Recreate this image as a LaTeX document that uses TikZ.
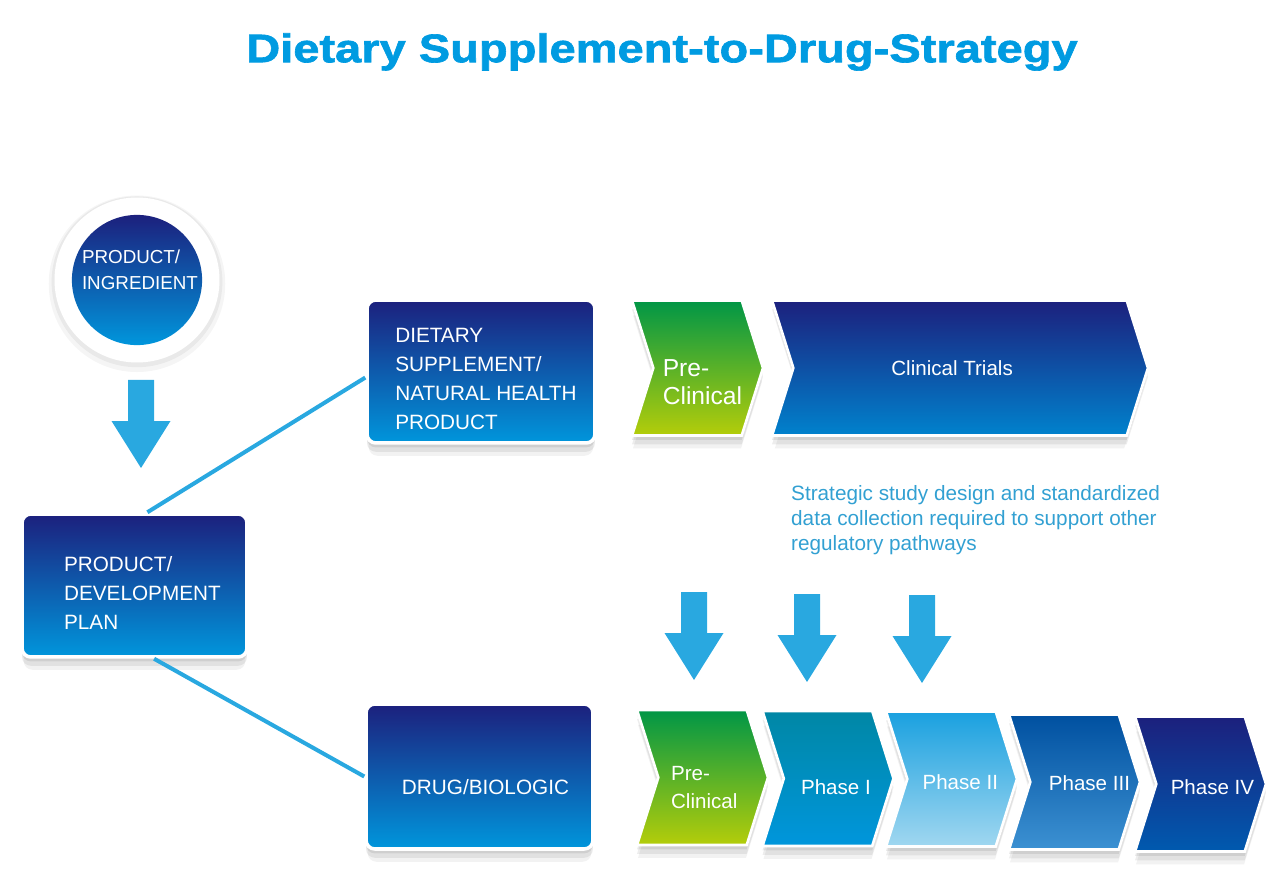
\documentclass[tikz,border=0pt]{standalone}
\usepackage{fontspec}
\setmainfont{Liberation Sans}
\newfontfamily\titlefont{Liberation Sans Bold}[FakeBold=1.6, FakeStretch=1.18]
\usepackage{xcolor}
\usetikzlibrary{shapes.symbols, shadows, positioning}
\definecolor{navyblue}{RGB}{28, 32, 125}
\definecolor{skyblue}{RGB}{0, 150, 220}
\definecolor{trialblue}{RGB}{0, 130, 205}
\definecolor{titleblue}{RGB}{0, 155, 225}
\definecolor{noteblue}{RGB}{50, 160, 210}
\definecolor{linkblue}{RGB}{41, 168, 224}
\definecolor{leafgreen}{RGB}{0, 150, 70}
\definecolor{limegreen}{RGB}{180, 205, 10}
\definecolor{tealblue}{RGB}{0, 135, 165}
\definecolor{paleblue}{RGB}{160, 215, 240}
\definecolor{deepblue}{RGB}{0, 80, 160}
\definecolor{midblue}{RGB}{60, 145, 210}
\definecolor{oceanblue}{RGB}{0, 90, 175}
% extra room above the first line of a label
\newcommand{\headroom}[1]{\rule{0pt}{#1}}

\begin{document}
\begin{tikzpicture}[x=0.02cm, y=-0.02cm,
        softshadow/.style={general shadow={fill=black, opacity=.05, shadow yshift=-8pt, shadow scale=.985},
                           general shadow={fill=black, opacity=.07, shadow yshift=-5pt},
                           general shadow={fill=black, opacity=.08, shadow yshift=-2.5pt}},
        ringshadow/.style={general shadow={fill=black, opacity=.04, shadow scale=1.07, shadow yshift=-2pt},
                           general shadow={fill=black, opacity=.05, shadow scale=1.035, shadow yshift=-1pt}},
        nudge/.style={execute at begin node={\hspace*{#1}}, execute at end node={\hspace*{-#1}}},
        stagebox/.style={rectangle, rounded corners=5pt, draw=white, line width=2pt, softshadow, top color=navyblue, bottom color=skyblue, text=white, align=left, inner sep=0pt, font=\fontsize{11.8}{16.5}\selectfont},
        chevron/.style={signal, signal from=west, signal to=east, signal pointer angle=145, draw=white, line width=1.5pt, softshadow, minimum width=2.62cm, minimum height=2.7cm, inner sep=0pt, text=white, align=left, font=\fontsize{11.7}{16}\selectfont},
        link/.style={draw=linkblue, line width=2.3pt},
        bigarrow/.style={fill=linkblue}
    ]
        \useasboundingbox (0,0) rectangle (1280,881);

        \node[font=\titlefont\fontsize{22.7}{27}\selectfont, text=titleblue] (title) at (662,52) {Dietary Supplement-to-Drug-Strategy};

        % source circle
        \node[circle, fill=white, minimum size=3.3cm, ringshadow] (ring) at (137,280) {};
        \node[circle, minimum size=2.52cm, top color=navyblue, bottom color=skyblue, text=white, align=left, inner sep=0pt, font=\fontsize{10.7}{14.7}\selectfont,
              execute at begin node={\hspace*{1.7pt}}, execute at end node={\hspace*{-1.7pt}\rule[-11.5pt]{0pt}{0pt}}] (ingredient) at (ring) {PRODUCT/\\INGREDIENT};

        % boxes
        \node[stagebox, nudge=4.5pt, minimum width=4.5cm, minimum height=2.86cm] (plan) at (134.5,585.5) {\headroom{16.6pt}PRODUCT/\\DEVELOPMENT\\PLAN};
        \node[stagebox, nudge=2.8pt, minimum width=4.56cm, minimum height=2.86cm] (dietary) at (481,371.5) {\headroom{17pt}DIETARY\\SUPPLEMENT/\\NATURAL HEALTH\\PRODUCT};
        \node[stagebox, nudge=3.4pt, minimum width=4.54cm, minimum height=2.9cm] (drug) at (479.5,776.5) {\headroom{20.5pt}DRUG/BIOLOGIC};

        \draw[link] (plan.80) -- (dietary.183);
        \draw[link] (plan.-75) -- (drug.west);

        % supplement pathway
        \node[chevron, nudge=2.8pt, top color=leafgreen, middle color=leafgreen!50!limegreen, bottom color=limegreen, font=\fontsize{14}{16}\selectfont] (pre1) at (697.5,368) {\headroom{26pt}Pre-\\Clinical};
        \node[chevron, nudge=-4.5pt, minimum width=7.52cm, top color=navyblue, middle color=navyblue!90!trialblue, bottom color=trialblue] (trials) at (960,368) {Clinical Trials};

        \node[text=noteblue, align=left, anchor=west, font=\fontsize{11.8}{14.2}\selectfont] (note) at (785,520) {Strategic study design and standardized\\data collection required to support other\\regulatory pathways};

        % drug pathway
        \node[chevron, nudge=1pt, top color=leafgreen, middle color=leafgreen!50!limegreen, bottom color=limegreen] (pre2) at (702.5,777.5) {\headroom{19.8pt}Pre-\\Clinical};
        \node[chevron, nudge=4.5pt, top color=tealblue, bottom color=skyblue] (phase1) at (828,778.5) {\headroom{18.5pt}Phase I};
        \node[chevron, nudge=5pt, top color=skyblue!90!white, bottom color=paleblue] (phase2) at (951.5,779) {\headroom{12pt}Phase II};
        \node[chevron, nudge=8.5pt, top color=deepblue, bottom color=midblue] (phase3) at (1074.5,782) {\headroom{10pt}Phase III};
        \node[chevron, nudge=6.8pt, top color=navyblue, bottom color=oceanblue] (phase4) at (1200.5,784) {\headroom{12pt}Phase IV};

        % block arrows
        \foreach \ax/\ay in {141/380, 694/592, 807/594, 922/595}
            \fill[bigarrow] ({\ax-13},\ay) -- ({\ax+13},\ay) -- ({\ax+13},{\ay+41}) -- ({\ax+29.5},{\ay+41})
                -- (\ax,{\ay+88}) -- ({\ax-29.5},{\ay+41}) -- ({\ax-13},{\ay+41}) -- cycle;
    \end{tikzpicture}
\end{document}
